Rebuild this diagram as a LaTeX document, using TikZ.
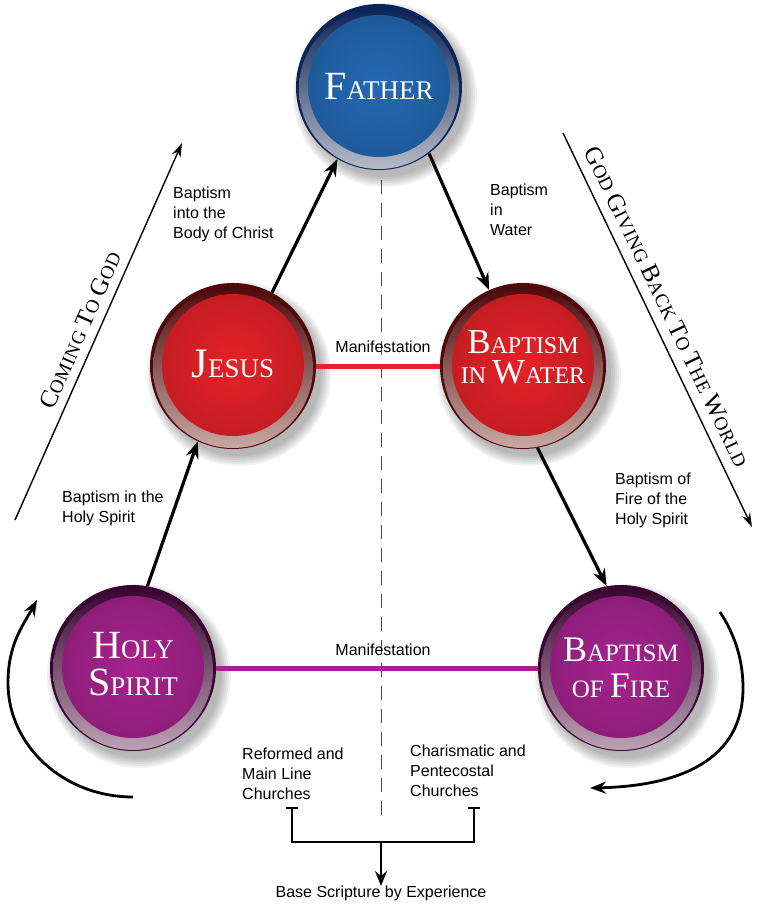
\documentclass[tikz,border=0pt]{standalone}
\usepackage{fontspec}
\setmainfont{Liberation Serif}
\newfontfamily\labfont{Liberation Sans}
\newfontfamily\trjfont[LetterSpace=3]{Liberation Serif}
\usetikzlibrary{arrows.meta}
\definecolor{bface}{HTML}{2469B3}
\definecolor{bdark}{HTML}{0D2557}
\definecolor{brim}{HTML}{B4BAC6}
\definecolor{rface}{HTML}{E52228}
\definecolor{rdark}{HTML}{4F0A0C}
\definecolor{rrim}{HTML}{C8A8A4}
\definecolor{pface}{HTML}{A6238E}
\definecolor{pdark}{HTML}{3A0733}
\definecolor{prim}{HTML}{BCA2B5}
\newcommand\Ini[2]{{\fontsize{#1}{#1}\selectfont #2}}
\newcommand\myorb[6]{%
  \foreach \k in {1,...,6}{\fill[black,opacity=0.05] ({#2+6},{#3+8}) circle[radius={80+2*\k}];}
  \node[orbnode, fill=#4] (#1) at (#2,#3) {};
  \shade[top color=#4, middle color=#4, bottom color=#6] ({#2},{#3+2}) circle[radius=80];
  \shade[inner color=#5, outer color=#5!86!black] ({#2},{#3-1}) circle[radius=71];
}
\begin{document}
\begin{tikzpicture}[x=1pt,y=-1pt,
  orbnode/.style={circle, minimum size=166pt, inner sep=0pt},
  orbtext/.style={text=white, align=center, inner sep=0pt},
  lab/.style={font=\labfont\fontsize{16}{20}\selectfont, align=left, inner sep=0pt, anchor=north west},
  conn/.style={line width=3.2pt, -{Stealth[length=17pt,width=13pt]}},
  side/.style={line width=1.4pt, -{Stealth[length=14pt,width=9pt]}},
  curv/.style={line width=2.8pt, -{Stealth[length=16pt,width=12pt]}},
  brk/.style={line width=2pt}
  ]
\fill[white] (0,0) rectangle (760,904);
\useasboundingbox (0,0) rectangle (760,904);

% dashed centre line
\coordinate (dtop) at (381,180);
\coordinate (dbot) at (381,818);
\draw[line width=1pt, dash pattern=on 14pt off 9pt, black!70] (dtop) -- (dbot);

% orbs
\myorb{father}{379}{87}{bdark}{bface}{brim}
\myorb{jesus}{233}{366}{rdark}{rface}{rrim}
\myorb{biw}{523}{366}{rdark}{rface}{rrim}
\myorb{hs}{133}{668}{pdark}{pface}{prim}
\myorb{fire}{621}{668}{pdark}{pface}{prim}

\node[orbtext, font=\fontsize{27}{30}\selectfont] (father-t) at (379,86) {\Ini{40}{F}ATHER};
\node[orbtext, font=\fontsize{27}{30}\selectfont] (jesus-t) at (233,364) {\Ini{42}{J}ESUS};
\node[orbtext, font=\fontsize{24}{30}\selectfont] (biw-t) at (523,357) {\Ini{35}{B}APTISM\\IN \Ini{35}{W}ATER};
\node[orbtext, font=\fontsize{27}{37}\selectfont] (hs-t) at (133,664) {\Ini{40}{H}OLY\\\Ini{40}{S}PIRIT};
\node[orbtext, font=\fontsize{25}{36}\selectfont] (fire-t) at (621,668) {\Ini{36}{B}APTISM\\OF \Ini{36}{F}IRE};

% manifestation lines
\draw[line width=5pt, rface] (jesus.east) -- (biw.west);
\draw[line width=5pt, pface] (hs.east) -- (fire.west);
\node[lab, anchor=north] (man1) at (383,341) {Manifestation};
\node[lab, anchor=north] (man2) at (383,644) {Manifestation};

% main connectors
\draw[conn] (jesus.62) -- (father.-120);
\draw[conn] (father.-53) -- (biw.114);
\draw[conn] (hs.80) -- (jesus.-115);
\draw[conn] (biw.-80) -- (fire.100);

\node[lab] (l1) at (173,187) {Baptism\\into the\\Body of Christ};
\node[lab] (l2) at (490,184) {Baptism\\in\\Water};
\node[lab] (l3) at (62,491) {Baptism in the\\Holy Spirit};
\node[lab] (l4) at (615,473) {Baptism of\\Fire of the\\Holy Spirit};

% side arrows
\coordinate (cs1) at (15,520);
\coordinate (cs2) at (182,143);
\draw[side] (cs1) -- (cs2);
\node[rotate=66, inner sep=0pt, font=\trjfont\fontsize{19}{19}\selectfont] (ctg) at (80,330) {\Ini{25}{C}OMING \Ini{25}{T}O \Ini{25}{G}OD};
\coordinate (gs1) at (563,133);
\coordinate (gs2) at (752,527);
\draw[side] (gs1) -- (gs2);
\node[rotate=-64.4, inner sep=0pt, font=\trjfont\fontsize{19}{19}\selectfont] (gbw) at (667,307) {\Ini{25}{G}OD \Ini{25}{G}IVING \Ini{25}{B}ACK \Ini{25}{T}O \Ini{25}{T}HE \Ini{25}{W}ORLD};

% curved arrows
\coordinate (cl1) at (133,797);
\coordinate (cl2) at (37,600);
\draw[curv] (cl1) .. controls (64,797) and (8,746) .. (8,683) .. controls (8,645) and (22,627) .. (cl2);
\coordinate (cr1) at (720,612);
\coordinate (cr2) at (590,788);
\draw[curv] (cr1) .. controls (735,635) and (743,660) .. (743,688) .. controls (743,760) and (680,786) .. (cr2);

% bottom
\node[lab] (ref) at (242,748) {Reformed and\\Main Line\\Churches};
\node[lab] (cha) at (410,745) {Charismatic and\\Pentecostal\\Churches};
\coordinate (t1) at (292,807);
\coordinate (t2) at (474,807);
\coordinate (bm) at (381,842);
\draw[brk, {Bar[width=12pt]}-{Bar[width=12pt]}] (t1) -- (292,842) -- (474,842) -- (t2);
\node[lab, anchor=north] (base) at (381,886) {Base Scripture by Experience};
\draw[brk, -{Stealth[length=15pt,width=12pt]}] (bm) -- (base.north);
\end{tikzpicture}
\end{document}
